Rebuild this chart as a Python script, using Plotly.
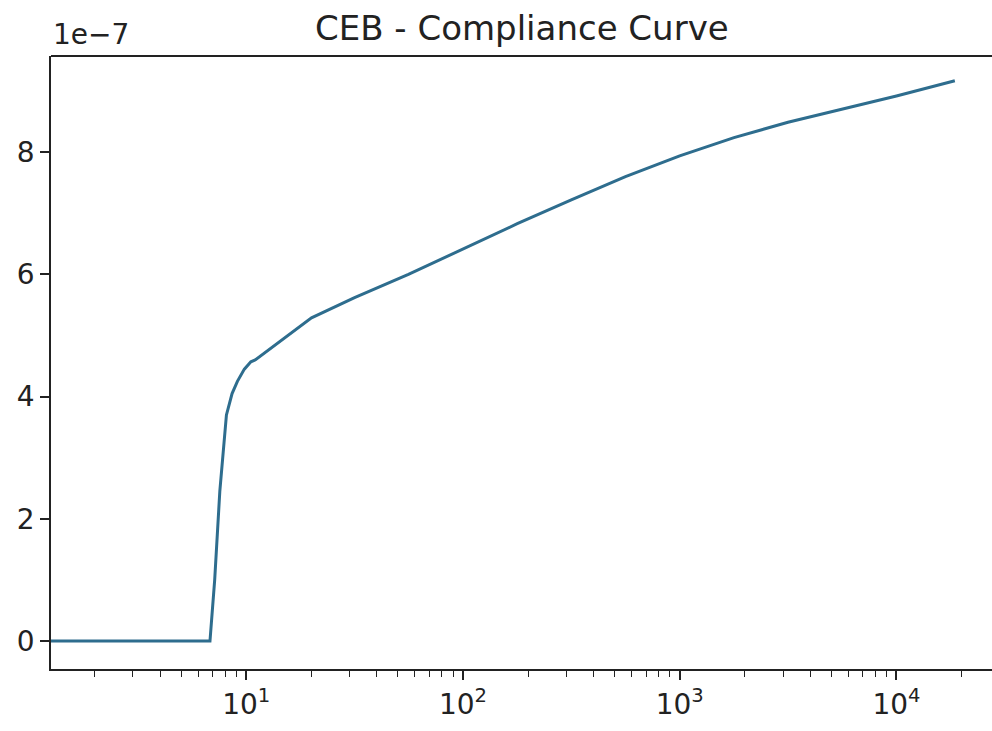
import plotly.graph_objects as go

# Data
time_s = [1.0, 6.8, 7.15, 7.55, 8.1, 8.6, 9.1, 9.8, 10.5, 11.0,
          20, 31.6, 56, 100, 178, 316, 562, 1000, 1780, 3160, 5620, 10000, 18600]
compliance_e7 = [0, 0, 1.0, 2.45, 3.7, 4.05, 4.25, 4.45, 4.57, 4.60,
                 5.29, 5.62, 6.00, 6.42, 6.83, 7.22, 7.60, 7.94, 8.24, 8.49, 8.71, 8.92, 9.17]
x_tickvals = [10, 100, 1000, 10000]
x_ticktext = ["10<sup>1</sup>", "10<sup>2</sup>", "10<sup>3</sup>", "10<sup>4</sup>"]
y_tickvals = [0, 2, 4, 6, 8]
y_ticktext = ["0", "2", "4", "6", "8"]

FONT = "DejaVu Sans"
AX = "#222222"

fig = go.Figure()
fig.add_trace(go.Scatter(
    x=time_s, y=compliance_e7, mode="lines",
    line=dict(color="#2e6d8e", width=3),
    showlegend=False,
))

fig.update_layout(
    width=992, height=731,
    margin=dict(l=51, r=0, t=56, b=62),
    paper_bgcolor="white", plot_bgcolor="white",
    font=dict(family=FONT, size=28, color=AX),
    xaxis=dict(
        type="log", range=[0.099, 4.441],
        tickvals=x_tickvals, ticktext=x_ticktext,
        ticks="outside", ticklen=9, tickwidth=1.6, tickcolor=AX,
        showline=True, linecolor=AX, linewidth=1.8,
        showgrid=False, zeroline=False,
        tickfont=dict(family=FONT, size=28, color=AX),
        minor=dict(ticks="outside", ticklen=6, tickwidth=1.2, tickcolor=AX,
                   dtick="D1", showgrid=False),
    ),
    yaxis=dict(
        range=[-0.458, 9.575],
        tickvals=y_tickvals, ticktext=y_ticktext,
        ticks="outside", ticklen=9, tickwidth=1.6, tickcolor=AX,
        showline=True, linecolor=AX, linewidth=1.8,
        showgrid=False, zeroline=False,
        tickfont=dict(family=FONT, size=28, color=AX),
    ),
    shapes=[dict(type="line", xref="paper", yref="paper", x0=0, x1=1, y0=1, y1=1,
                 line=dict(color=AX, width=1.8))],
    annotations=[
        dict(text="CEB - Compliance Curve", xref="paper", yref="paper",
             x=0.5, y=1, xanchor="center", yanchor="bottom", yshift=6,
             showarrow=False, font=dict(family=FONT, size=34, color=AX)),
        dict(text="1e\u22127", xref="paper", yref="paper",
             x=0, y=1, xanchor="left", yanchor="bottom", yshift=3,
             showarrow=False, font=dict(family=FONT, size=28, color=AX)),
    ],
)

fig.write_html("out.html")
